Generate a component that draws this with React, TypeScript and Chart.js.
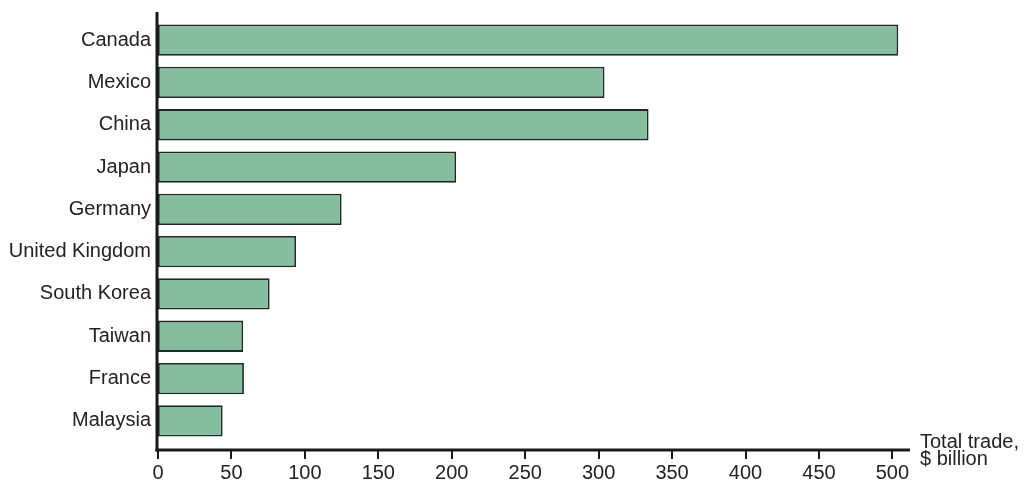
import React, { useEffect, useRef } from "react";
import { Chart, registerables } from "chart.js";

Chart.register(...registerables);

const categories = ["Canada", "Mexico", "China", "Japan", "Germany", "United Kingdom", "South Korea", "Taiwan", "France", "Malaysia"];
const totalTrade = [504, 304, 334, 203, 125, 94, 76, 58, 58.5, 44];
const xTickValues = [0, 50, 100, 150, 200, 250, 300, 350, 400, 450, 500];
const axisTitleLines = ["Total trade,", "$ billion"];

const FONT = "'Liberation Sans', Arial, Helvetica, sans-serif";

export default function App() {
  const ref = useRef<HTMLCanvasElement | null>(null);

  useEffect(() => {
    if (!ref.current) return;
    const axesPlugin = {
      id: "customAxes",
      afterDraw(chart: any) {
        const ctx = chart.ctx;
        const xs = chart.scales.x;
        const area = chart.chartArea;
        const axisY = 450;
        ctx.save();
        ctx.strokeStyle = "#1a1a1a";
        ctx.lineWidth = 3;
        ctx.beginPath();
        ctx.moveTo(area.left - 1, 12);
        ctx.lineTo(area.left - 1, axisY + 1.5);
        ctx.stroke();
        ctx.beginPath();
        ctx.moveTo(area.left - 2.5, axisY);
        ctx.lineTo(area.right, axisY);
        ctx.stroke();
        ctx.lineWidth = 2;
        xTickValues.forEach((v) => {
          const px = Math.round(xs.getPixelForValue(v));
          ctx.beginPath();
          ctx.moveTo(px, axisY);
          ctx.lineTo(px, axisY + 9);
          ctx.stroke();
        });
        ctx.fillStyle = "#222";
        ctx.font = `20px ${FONT}`;
        ctx.textAlign = "left";
        ctx.textBaseline = "alphabetic";
        ctx.fillText(axisTitleLines[0], 920, 448);
        ctx.fillText(axisTitleLines[1], 920, 465);
        ctx.restore();
      },
    };

    const chart = new Chart(ref.current, {
      type: "bar",
      data: {
        labels: categories,
        datasets: [
          {
            data: totalTrade,
            backgroundColor: "#86bd9e",
            borderColor: "#1e2a24",
            borderWidth: 1.8,
            borderSkipped: false,
            barPercentage: 0.74,
            categoryPercentage: 1,
          },
        ],
      },
      options: {
        indexAxis: "y",
        animation: false,
        responsive: false,
        maintainAspectRatio: false,
        layout: { padding: { left: 0, right: 114, top: 18, bottom: 0 } },
        plugins: { legend: { display: false }, tooltip: { enabled: false } },
        scales: {
          x: {
            type: "linear",
            min: 0,
            max: 512,
            grid: { display: false, drawTicks: false },
            border: { display: false },
            ticks: { stepSize: 50, padding: 19, color: "#222", font: { family: FONT, size: 20 }, autoSkip: false, maxRotation: 0 },
            afterBuildTicks: (scale: any) => {
              scale.ticks = xTickValues.map((v) => ({ value: v }));
            },
            afterFit: (scale: any) => {
              scale.height = 47;
            },
          },
          y: {
            grid: { display: false, drawTicks: false },
            border: { display: false },
            ticks: { padding: 7, color: "#222", font: { family: FONT, size: 20 } },
            afterFit: (scale: any) => {
              scale.width = 158;
            },
          },
        },
      },
      plugins: [axesPlugin],
    });
    return () => chart.destroy();
  }, []);

  return (
    <div style={{ position: "fixed", left: 0, top: 0, width: 1024, height: 489, background: "#fff" }}>
      <canvas ref={ref} width={1024} height={489} style={{ width: 1024, height: 489, display: "block" }} />
    </div>
  );
}
